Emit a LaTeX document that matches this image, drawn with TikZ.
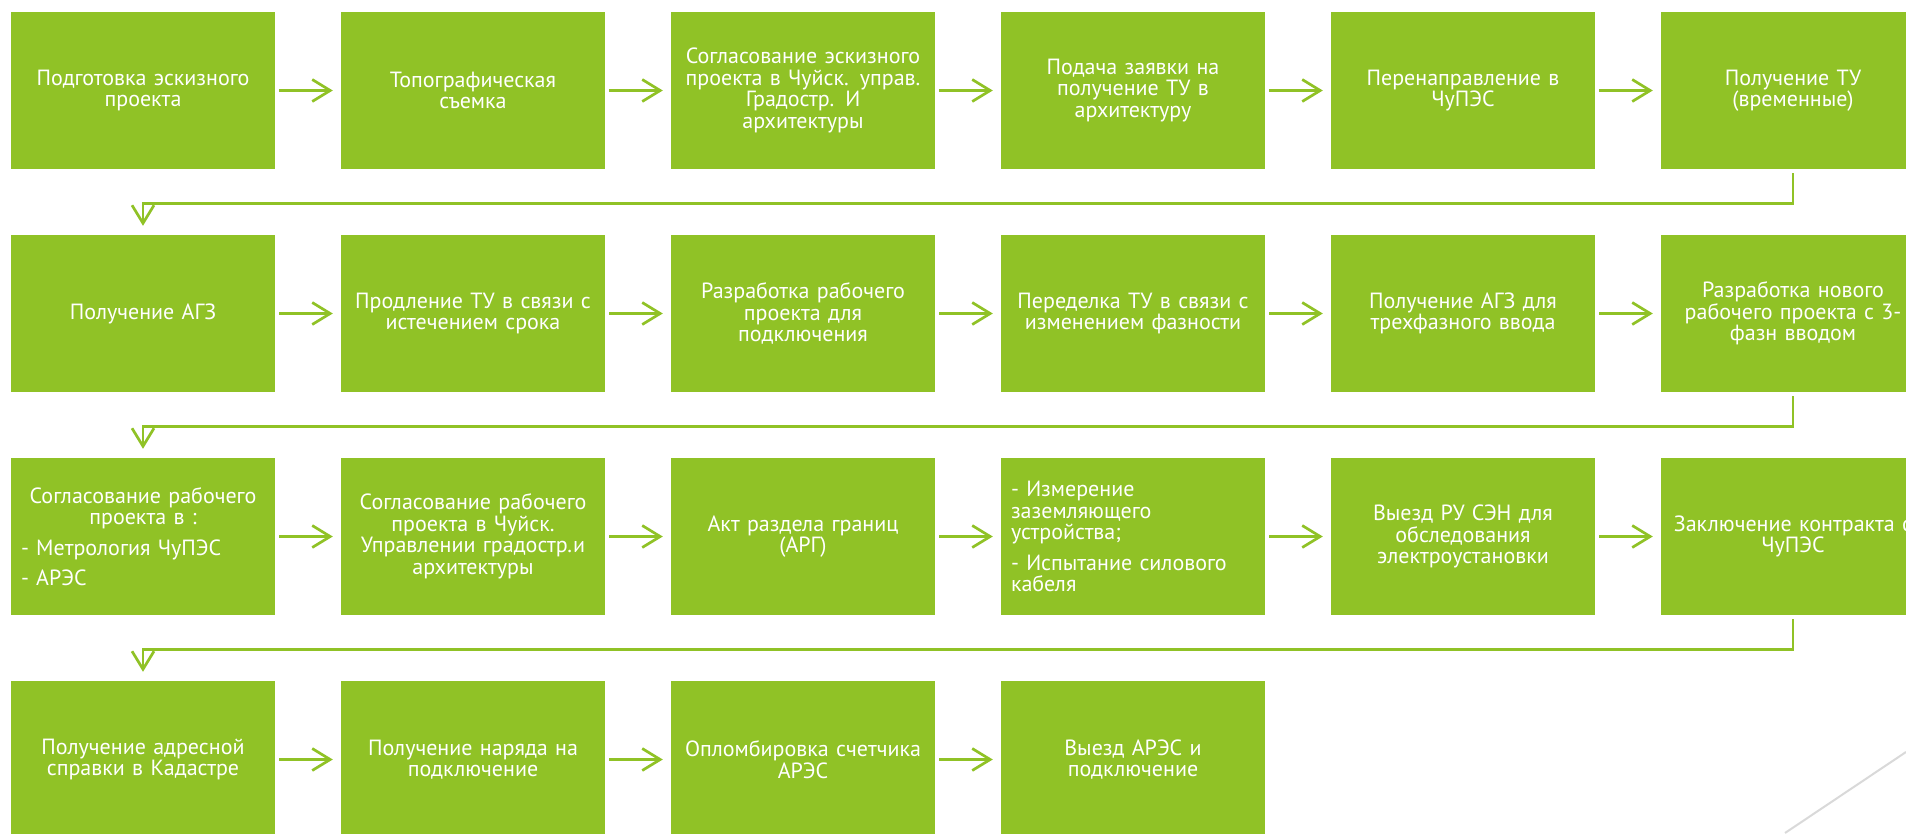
\documentclass[tikz,border=0pt]{standalone}
\usepackage{fontspec}
\setmainfont{PT Sans}
\usepackage{tikz}
\usetikzlibrary{arrows.meta,positioning}
\definecolor{FacetGreen}{HTML}{90C226}
\definecolor{LineGray}{HTML}{D9D9D9}

\begin{document}
\begin{tikzpicture}[
  x=1pt, y=-1pt,
  stepbox/.style={rectangle, fill=FacetGreen, minimum width=264pt, minimum height=157pt, text width=244pt, inner sep=0pt, align=center, text=white, font=\fontsize{22pt}{21.5pt}\selectfont},
  listbox/.style={stepbox, align=left},
  arrow/.style={-{Straight Barb[length=18pt,width=22pt]}, line width=2.7pt, FacetGreen, shorten <=4pt, shorten >=8pt},
  turn/.style={-{Straight Barb[length=18pt,width=22pt]}, line width=2.7pt, FacetGreen}
]
\useasboundingbox (0,0) rectangle (1906,833);
\clip (0,0) rectangle (1906,833);

% Row 1
\node[stepbox] (eskiz) at (143,90.5) {Подготовка эскизного\\проекта};
\node[stepbox] (topo) at (473,90.5) {Топографическая\\съемка};
\node[stepbox] (soglesk) at (803,90.5) {Согласование эскизного\\проекта в Чуйск. управ.\\Градостр. И\\архитектуры};
\node[stepbox] (zayavka) at (1133,90.5) {Подача заявки на\\получение ТУ в\\архитектуру};
\node[stepbox] (chupes) at (1463,90.5) {Перенаправление в\\ЧуПЭС};
\node[stepbox] (tuvrem) at (1793,90.5) {Получение ТУ\\(временные)};

% Row 2
\node[stepbox] (agz) at (143,313.5) {Получение АГЗ};
\node[stepbox] (prodl) at (473,313.5) {Продление ТУ в связи с\\истечением срока};
\node[stepbox] (rabproekt) at (803,313.5) {Разработка рабочего\\проекта для\\подключения};
\node[stepbox] (peredelka) at (1133,313.5) {Переделка ТУ в связи с\\изменением фазности};
\node[stepbox] (agztri) at (1463,313.5) {Получение АГЗ для\\трехфазного ввода};
\node[stepbox] (novproekt) at (1793,313.5) {Разработка нового\\рабочего проекта с 3-\\фазн вводом};

% Row 3
\node[listbox] (soglrab) at (143,536.5) {{\centering Согласование рабочего\\проекта в :\par}\vspace{9pt}- Метрология ЧуПЭС\par\vspace{9pt}- АРЭС};
\node[stepbox] (soglchuy) at (473,536.5) {Согласование рабочего\\проекта в Чуйск.\\Управлении градостр.и\\архитектуры};
\node[stepbox] (arg) at (803,536.5) {Акт раздела границ\\(АРГ)};
\node[listbox] (izmer) at (1133,536.5) {- Измерение\\заземляющего\\устройства;\\[9pt]- Испытание силового\\кабеля};
\node[stepbox] (vyezdru) at (1463,536.5) {Выезд РУ СЭН для\\обследования\\электроустановки};
\node[stepbox] (kontrakt) at (1793,536.5) {Заключение контракта с\\ЧуПЭС};

% Row 4
\node[stepbox] (kadastr) at (143,759.5) {Получение адресной\\справки в Кадастре};
\node[stepbox] (naryad) at (473,759.5) {Получение наряда на\\подключение};
\node[stepbox] (plomba) at (803,759.5) {Опломбировка счетчика\\АРЭС};
\node[stepbox] (podkl) at (1133,759.5) {Выезд АРЭС и\\подключение};

% Arrows in row 1
\draw[arrow] (eskiz) -- (topo);
\draw[arrow] (topo) -- (soglesk);
\draw[arrow] (soglesk) -- (zayavka);
\draw[arrow] (zayavka) -- (chupes);
\draw[arrow] (chupes) -- (tuvrem);

% Arrows in row 2
\draw[arrow] (agz) -- (prodl);
\draw[arrow] (prodl) -- (rabproekt);
\draw[arrow] (rabproekt) -- (peredelka);
\draw[arrow] (peredelka) -- (agztri);
\draw[arrow] (agztri) -- (novproekt);

% Arrows in row 3
\draw[arrow] (soglrab) -- (soglchuy);
\draw[arrow] (soglchuy) -- (arg);
\draw[arrow] (arg) -- (izmer);
\draw[arrow] (izmer) -- (vyezdru);
\draw[arrow] (vyezdru) -- (kontrakt);

% Arrows in row 4
\draw[arrow] (kadastr) -- (naryad);
\draw[arrow] (naryad) -- (plomba);
\draw[arrow] (plomba) -- (podkl);

% Turns from one row to the next
\draw[turn] ([yshift=-4pt]tuvrem.south) -- ([yshift=-34pt]tuvrem.south) -| ([yshift=9pt]agz.north);
\draw[turn] ([yshift=-4pt]novproekt.south) -- ([yshift=-34pt]novproekt.south) -| ([yshift=9pt]soglrab.north);
\draw[turn] ([yshift=-4pt]kontrakt.south) -- ([yshift=-34pt]kontrakt.south) -| ([yshift=9pt]kadastr.north);

% corner line of the slide
\draw[LineGray, line width=2pt] (1785,833) -- (1906,752);

\end{tikzpicture}
\end{document}
